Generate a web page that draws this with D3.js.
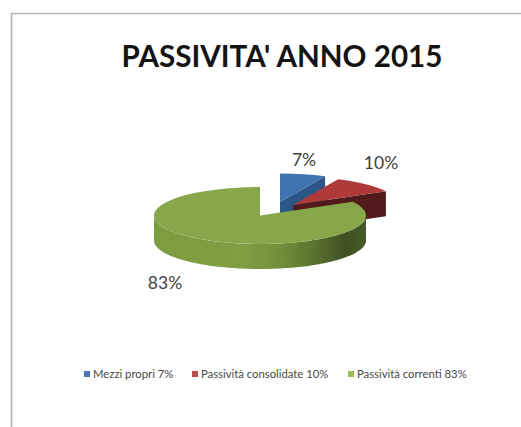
<!DOCTYPE html>
<html>
<head>
<meta charset="utf-8">
<script src="https://cdn.jsdelivr.net/npm/d3@7"></script>
<style>
  html, body { margin: 0; padding: 0; background: #fff; }
  svg { display: block; }
</style>
</head>
<body>
<svg id="chart" width="521" height="427"></svg>
<script>
// Chart content
const titleText = "PASSIVITA' ANNO 2015";
const categories = ["Mezzi propri", "Passività consolidate", "Passività correnti"];
const shares = [7, 10, 83];

// Appearance of each slice, in series order
const topColors = ["#3f72b0", "#ad3a38", "#87a84a"];
const faceColors = ["#2a5688", "#521a1a", "#5f7a30"];
const legendColors = ["#4f74b4", "#bf4f55", "#9dbb5c"];

const width = 521, height = 427;
const rx = 106, ry = 28.5, depth = 25;
const centers = [[280, 202], [293, 205], [260, 215.5]];
const labelAnchors = [[304, 166], [381, 169], [165, 289]];
const legendSwatchX = [84, 192, 348];
const legendY = 374;

const svg = d3.select("#chart");

// Page frame: thin grey rule along the top and left edges
svg.append("path")
  .attr("d", d3.line()([[11.5, height], [11.5, 13.5], [width, 13.5]]))
  .attr("fill", "none").attr("stroke", "#b4b4b4").attr("stroke-width", 1.6);

const defs = svg.append("defs");
const rimGradient = defs.append("linearGradient")
  .attr("id", "rimShade")
  .attr("gradientUnits", "userSpaceOnUse")
  .attr("x1", centers[2][0] - rx).attr("x2", centers[2][0] + rx)
  .attr("y1", 0).attr("y2", 0);
[[0, "#7c9c40"], [0.42, "#7f9f42"], [0.6, "#718f3a"], [0.78, "#566e2c"], [0.9, "#3f5122"], [1, "#465a26"]]
  .forEach(([o, c]) => rimGradient.append("stop").attr("offset", o).attr("stop-color", c));

// d3.pie gives clockwise angles measured from twelve o'clock
const slices = d3.pie().sort(null)(shares);
const unitArc = d3.arc().innerRadius(0).outerRadius(1);

// Projects a pie angle onto the flattened disc around a given centre
const project = (c, a, drop = 0) => [c[0] + rx * Math.sin(a), c[1] - ry * Math.cos(a) + drop];

const pie = svg.append("g");

slices.forEach((s, i) => {
  const c = centers[i];
  const g = pie.append("g");

  // Cut face along the slice's clockwise end, visible on the rear slices
  if (s.endAngle < Math.PI) {
    const rim = project(c, s.endAngle);
    g.append("path")
      .attr("d", d3.line()([c, rim, [rim[0], rim[1] + depth], [c[0], c[1] + depth]]) + "Z")
      .attr("fill", faceColors[i]);
  }

  // Outer wall of the part of the slice that faces the viewer
  const from = Math.max(s.startAngle, Math.PI / 2);
  const to = Math.min(s.endAngle, Math.PI * 3 / 2);
  if (to > from) {
    const angles = d3.range(from, to, 0.02).concat([to]);
    const wall = angles.map(a => project(c, a))
      .concat(angles.slice().reverse().map(a => project(c, a, depth)));
    g.append("path").attr("d", d3.line()(wall) + "Z").attr("fill", "url(#rimShade)");
  }

  // Top surface: a unit arc squashed into an ellipse
  g.append("path")
    .attr("transform", `translate(${c[0]},${c[1]}) scale(${rx},${ry})`)
    .attr("d", unitArc(s))
    .attr("fill", topColors[i]);
});

// Title
svg.append("text")
  .attr("x", 282).attr("y", 66.5)
  .attr("text-anchor", "middle")
  .attr("font-family", "Lato, sans-serif")
  .attr("font-weight", 700)
  .attr("font-size", 29.6)
  .attr("fill", "#141414")
  .text(titleText);

// Percentage labels
svg.selectAll("text.value")
  .data(shares)
  .join("text")
  .attr("class", "value")
  .attr("x", (d, i) => labelAnchors[i][0])
  .attr("y", (d, i) => labelAnchors[i][1])
  .attr("text-anchor", "middle")
  .attr("font-family", "Lato, sans-serif")
  .attr("font-size", 17.5)
  .attr("fill", "#404040")
  .text(d => d + "%");

// Legend
const legend = svg.selectAll("g.entry")
  .data(categories)
  .join("g")
  .attr("class", "entry")
  .attr("transform", (d, i) => `translate(${legendSwatchX[i]},${legendY})`);
legend.append("rect")
  .attr("x", 0).attr("y", -3).attr("width", 6).attr("height", 6)
  .attr("fill", (d, i) => legendColors[i]);
legend.append("text")
  .attr("x", 9).attr("y", 3.8)
  .attr("font-family", "Lato, sans-serif")
  .attr("font-size", 11.3)
  .attr("fill", "#484848")
  .text((d, i) => `${d} ${shares[i]}%`);
</script>
</body>
</html>
